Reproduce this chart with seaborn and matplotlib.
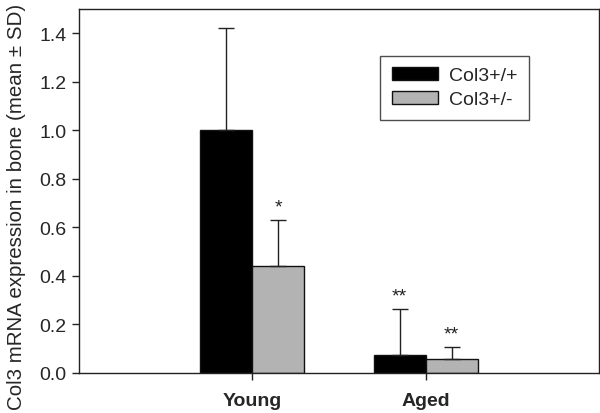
import matplotlib
matplotlib.use("Agg")
import matplotlib.pyplot as plt
import seaborn as sns
import pandas as pd
from matplotlib.patches import Patch

groups = ["Young", "Young", "Aged", "Aged"]
genotypes = ["Col3+/+", "Col3+/-", "Col3+/+", "Col3+/-"]
means = [1.00, 0.44, 0.073, 0.058]
sds = [0.42, 0.19, 0.19, 0.048]
stars = ["", "*", "**", "**"]
yticks = [0.0, 0.2, 0.4, 0.6, 0.8, 1.0, 1.2, 1.4]

df = pd.DataFrame({"group": groups, "genotype": genotypes, "mean": means})

sns.set_style("white")
plt.rcParams["font.family"] = ["Liberation Sans", "DejaVu Sans"]

fig = plt.figure(figsize=(6.0, 4.14), dpi=100)
ax = fig.add_axes([0.132, 0.097, 0.866, 0.879])

palette = {"Col3+/+": "#000000", "Col3+/-": "#b3b3b3"}
sns.barplot(data=df, x="group", y="mean", hue="genotype", order=["Young", "Aged"],
            hue_order=["Col3+/+", "Col3+/-"], palette=palette, errorbar=None,
            width=0.6, edgecolor="#111111", linewidth=1.0, saturation=1, ax=ax, legend=False)

patches = [p for p in ax.patches if p.get_width() > 0]
patches = sorted(patches, key=lambda p: p.get_x())
for i, p in enumerate(patches):
    xc = p.get_x() + p.get_width() / 2
    ax.errorbar([xc], [means[i]], yerr=[[0], [sds[i]]], fmt="none", ecolor="#222222",
                elinewidth=1.0, capsize=6, capthick=1.0, zorder=1)
    if stars[i]:
        ax.text(xc, means[i] + sds[i] + 0.035, stars[i], ha="center", va="baseline",
                fontsize=14, color="#222222")

ax.set_xlim(-1, 2)
ax.set_ylim(0, 1.5)
ax.set_yticks(yticks)
ax.set_yticklabels([f"{t:.1f}" for t in yticks], fontsize=14)
ax.set_xticks([0, 1])
ax.set_xticklabels(["Young", "Aged"], fontsize=14, fontweight="bold")
ax.set_xlabel("")
ax.set_ylabel("Col3 mRNA expression in bone (mean ± SD)", fontsize=14.8)
ax.yaxis.set_label_coords(-0.102, 0.46)
ax.tick_params(axis="both", direction="out", length=5, width=1, color="#222222",
               left=True, bottom=True, right=False, top=False)
ax.tick_params(axis="y", pad=4)
ax.tick_params(axis="x", pad=9)
for s in ax.spines.values():
    s.set_visible(True)
    s.set_color("#222222")
    s.set_linewidth(1.0)

handles = [Patch(facecolor=palette[g], edgecolor="#111111", linewidth=1.0) for g in ["Col3+/+", "Col3+/-"]]
leg = ax.legend(handles, ["Col3+/+", "Col3+/-"], loc="upper left", bbox_to_anchor=(0.579, 0.872),
                fontsize=14, frameon=True, fancybox=False, edgecolor="#222222",
                handlelength=2.4, handleheight=0.6, borderpad=0.6, labelspacing=0.36,
                handletextpad=0.55, borderaxespad=0)
leg.get_frame().set_linewidth(1.0)

fig.savefig("out.png", dpi=100)
